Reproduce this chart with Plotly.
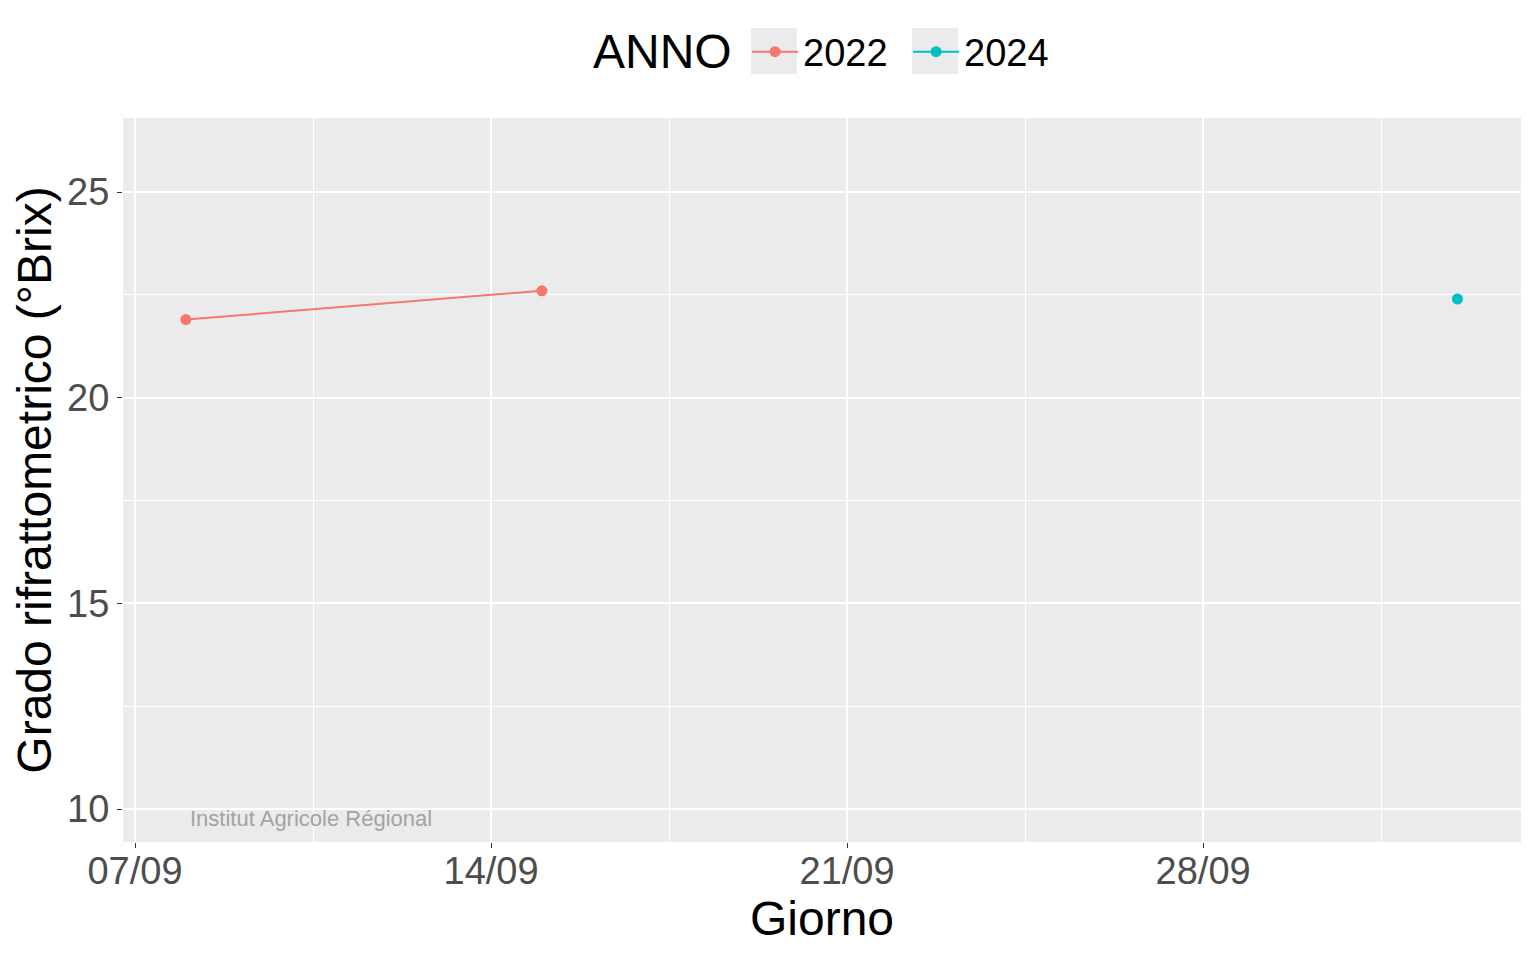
import plotly.graph_objects as go

# Data (common year used for the x axis)
BASE_YEAR = 2024
giorni_2022 = ["08/09", "15/09"]
brix_2022 = [21.9, 22.6]
giorni_2024 = ["03/10"]
brix_2024 = [22.4]
anni = ["2022", "2024"]
colori = ["#F8766D", "#00BFC4"]


def to_date(g):
    d, m = g.split("/")
    return "%d-%s-%s" % (BASE_YEAR, m, d)


serie = [(giorni_2022, brix_2022), (giorni_2024, brix_2024)]

fig = go.Figure()
for anno, colore, (giorni, valori) in zip(anni, colori, serie):
    fig.add_trace(go.Scatter(
        x=[to_date(g) for g in giorni], y=valori,
        mode="lines+markers", name=anno,
        line=dict(color=colore, width=2),
        marker=dict(color=colore, size=11),
    ))

# grey legend key backgrounds (ggplot style)
for x0, x1 in [(0.4492, 0.4821), (0.5644, 0.5973)]:
    fig.add_shape(type="rect", xref="paper", yref="paper",
                  x0=x0, x1=x1, y0=1.0608, y1=1.1243,
                  fillcolor="#EBEBEB", line_width=0, layer="below")

# legend title as a separate label
fig.add_annotation(text="ANNO", xref="paper", yref="paper",
                   x=0.386, y=1.0912, xanchor="center", yanchor="middle",
                   showarrow=False, font=dict(size=48, color="black"))

fig.add_annotation(text="Institut Agricole Régional", xref="paper", yref="paper",
                   x=0.0465, y=0.033, xanchor="left", yanchor="middle",
                   showarrow=False, font=dict(size=22, color="#A3A3A3"))

fig.update_layout(
    width=1536, height=960,
    margin=dict(l=123, r=15, t=118, b=118),
    paper_bgcolor="white", plot_bgcolor="#EBEBEB",
    font=dict(family="Liberation Sans, Arial, sans-serif", color="black"),
    legend=dict(orientation="h", x=0.4464, xanchor="left", y=1.0912, yanchor="middle",
                itemwidth=46, entrywidth=100, font=dict(size=38), bgcolor="rgba(0,0,0,0)"),
    xaxis=dict(
        type="date", range=["%d-09-06 18:20" % BASE_YEAR, "%d-10-04 06:00" % BASE_YEAR],
        tick0="%d-09-07" % BASE_YEAR, dtick=7 * 86400000, tickformat="%d/%m",
        ticks="outside", ticklen=5, tickcolor="#333333", tickwidth=1.2,
        ticklabelstandoff=-10,
        tickfont=dict(size=38, color="#4D4D4D"),
        gridcolor="white", gridwidth=2, zeroline=False, showline=False,
        minor=dict(dtick=3.5 * 86400000, showgrid=True, gridcolor="white", gridwidth=1),
        title=dict(text="Giorno", font=dict(size=48), standoff=0),
    ),
    yaxis=dict(
        range=[9.2, 26.8], tick0=10, dtick=5,
        ticks="outside", ticklen=5, tickcolor="#333333", tickwidth=1.2,
        tickfont=dict(size=38, color="#4D4D4D"),
        gridcolor="white", gridwidth=2, zeroline=False, showline=False,
        minor=dict(dtick=2.5, showgrid=True, gridcolor="white", gridwidth=1),
        title=dict(text="Grado rifrattometrico (°Brix)", font=dict(size=48), standoff=0),
    ),
)

fig.write_html("out.html", config={"displayModeBar": False},
               post_script="document.body.style.margin='0px';")
